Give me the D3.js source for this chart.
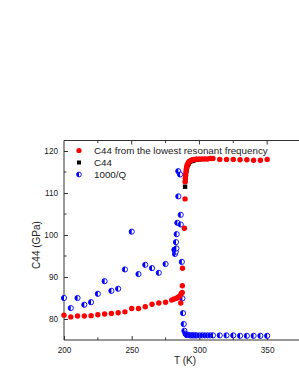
<!DOCTYPE html>
<html>
<head>
<meta charset="utf-8">
<script src="https://cdn.jsdelivr.net/npm/d3@7"></script>
<style>
  body { margin: 0; background: #fff; }
  svg { display: block; font-family: "Liberation Sans", Arial, sans-serif; }
</style>
</head>
<body>
<div id="chart"></div>
<script>
// C44 from the lowest resonant frequency (red)
const redT = [200, 205, 210, 215, 220, 225, 230, 235, 240, 245, 250, 255, 260, 265, 270, 275,
  279.5, 281, 282.5, 283.5, 284.5, 285.5, 286.5, 286.2, 287.3, 287.4, 287.5, 288.9, 289.4,
  289.4, 289.6, 289.8, 290, 290.3, 290.6, 291, 291.5, 292, 292.5, 293, 294, 295, 296, 297, 298,
  300, 302, 304, 306, 308, 310, 315, 320, 325, 330, 335, 340, 345, 350];
const redC = [80.9, 80.5, 80.7, 80.7, 80.8, 81.0, 81.2, 81.3, 81.5, 81.7, 82.5, 82.5, 82.9, 83.5, 83.8, 84.0,
  84.5, 84.7, 84.9, 85.0, 85.2, 85.5, 86.0, 83.8, 86.3, 87.9, 92.1, 101.6, 108.6,
  112.7, 113.5, 114.3, 115.0, 115.7, 116.3, 116.7, 117.0, 117.3, 117.5, 117.6, 117.8, 117.9, 118.0, 118.0, 118.1,
  118.1, 118.1, 118.1, 118.1, 118.2, 118.2, 118.0, 118.0, 118.0, 117.9, 117.9, 117.8, 117.8, 118.0];

// C44 (black)
const blackT = [289.4, 289.6, 289.8, 290, 290.3, 290.6, 291, 291.5, 292, 293, 294, 295, 296, 298, 300];
const blackC = [111.5, 112.8, 113.8, 114.5, 115.2, 115.8, 116.3, 116.7, 117.0, 117.4, 117.6, 117.7, 117.8, 117.9, 118.0];

// 1000/Q (blue)
const blueT = [200, 205, 210, 215, 220, 225, 230, 235, 240, 245, 250, 255, 260, 265, 270, 275,
  281.5, 282, 282.5, 283, 282.7, 283.2, 283.7, 286.2, 286.2, 284.4, 284.4, 285.7, 287, 287.4, 287.9,
  288.4, 288.9, 289.7, 290.5, 291, 292, 293, 294, 295, 296, 297, 298, 300, 302, 304, 306, 308, 310,
  315, 320, 325, 330, 335, 340, 345, 350];
const blueQ = [85.0, 82.6, 85.0, 83.4, 84.0, 86.0, 89.0, 86.7, 87.2, 91.8, 100.8, 90.7, 92.9, 92.1, 91.0, 93.1,
  96.5, 95.5, 96.0, 96.8, 98.3, 100.2, 102.9, 102.5, 104.8, 109.2, 115.2, 114.4, 93.6, 84.9, 81.4,
  78.8, 77.2, 76.5, 76.2, 76.2, 76.2, 76.1, 76.1, 76.1, 76.1, 76.1, 76.1, 76.1, 76.1, 76.1, 76.1, 76.1, 76.1,
  76.1, 76.1, 76.1, 76.0, 76.0, 76.0, 76.0, 76.0];

const xTicks = [200, 250, 300, 350];
const yTicks = [80, 90, 100, 110, 120];
const legendLabels = ["C44 from the lowest resonant frequency", "C44", "1000/Q"];

const W = 299, H = 387;
const x = d3.scaleLinear().domain([200, 375]).range([64, 301]);
const y = d3.scaleLinear().domain([75, 122.5]).range([340, 140.5]);

const svg = d3.select("#chart").append("svg")
  .attr("width", W).attr("height", H);

const axisColor = "#333";

// top frame line
svg.append("line").attr("x1", 64).attr("x2", W).attr("y1", 140.5).attr("y2", 140.5)
  .attr("stroke", axisColor).attr("stroke-width", 1);

// bottom axis
const gx = svg.append("g").attr("transform", "translate(0,340)")
  .call(d3.axisBottom(x).tickValues(xTicks).tickSize(-4).tickPadding(7));
gx.select(".domain").attr("d", `M64,0H${W}`);
// minor ticks bottom
gx.selectAll(".minor").data([225, 275, 325]).enter().append("line")
  .attr("class", "minor").attr("x1", d => x(d)).attr("x2", d => x(d))
  .attr("y1", 0).attr("y2", -2.5);

// top ticks
svg.append("g").selectAll("line").data([225, 250, 275, 300, 325, 350]).enter().append("line")
  .attr("x1", d => x(d)).attr("x2", d => x(d))
  .attr("y1", 140.5).attr("y2", d => d % 50 === 0 ? 144.5 : 143)
  .attr("stroke", axisColor);

// left axis
const gy = svg.append("g").attr("transform", "translate(64,0)")
  .call(d3.axisLeft(y).tickValues(yTicks).tickSize(-4).tickPadding(6));
gy.select(".domain").attr("d", "M0,340V140.5");
gy.selectAll(".minor").data([85, 95, 105, 115]).enter().append("line")
  .attr("class", "minor").attr("x1", 0).attr("x2", 2.5)
  .attr("y1", d => y(d)).attr("y2", d => y(d));

[gx, gy].forEach(g => {
  g.selectAll("path, line").attr("stroke", axisColor);
  g.selectAll("text").attr("fill", "#222").style("font-size", "8.2px")
    .style("font-family", '"Liberation Sans", Arial, sans-serif');
});

// axis titles
svg.append("text").attr("x", 185).attr("y", 364).attr("text-anchor", "middle")
  .style("font-size", "10px").attr("fill", "#222").text("T (K)");
svg.append("text").attr("transform", "translate(40,245) rotate(-90)")
  .attr("text-anchor", "middle").style("font-size", "10px").attr("fill", "#222").text("C44 (GPa)");

// blue half-filled marker
function halfCircle(g, cx, cy, r) {
  g.append("circle").attr("cx", cx).attr("cy", cy).attr("r", r)
    .attr("fill", "#fff").attr("stroke", "#0000ff").attr("stroke-width", 0.9);
  g.append("path")
    .attr("d", `M${cx},${cy - r}A${r},${r} 0 0 0 ${cx},${cy + r}Z`)
    .attr("fill", "#0000ff");
}

const plot = svg.append("g");

const blueG = plot.append("g");
blueT.forEach((t, i) => halfCircle(blueG, x(t), y(blueQ[i]), 2.6));

plot.append("g").selectAll("rect").data(blackT).enter().append("rect")
  .attr("x", d => x(d) - 2.2).attr("y", (d, i) => y(blackC[i]) - 2.2)
  .attr("width", 4.4).attr("height", 4.4).attr("fill", "#000");

plot.append("g").selectAll("circle").data(redT).enter().append("circle")
  .attr("cx", d => x(d)).attr("cy", (d, i) => y(redC[i])).attr("r", 2.7)
  .attr("fill", "#ff0000");

// legend
const leg = svg.append("g");
const ly = [150.5, 162.5, 174.5];
leg.append("circle").attr("cx", 79).attr("cy", ly[0]).attr("r", 2.6).attr("fill", "#ff0000");
leg.append("rect").attr("x", 77).attr("y", ly[1] - 2).attr("width", 4).attr("height", 4).attr("fill", "#000");
halfCircle(leg, 79, ly[2], 2.4);
legendLabels.forEach((s, i) => {
  leg.append("text").attr("x", 94).attr("y", ly[i]).attr("dy", "0.35em")
    .style("font-size", "9.8px").attr("fill", "#222").text(s);
});
</script>
</body>
</html>
